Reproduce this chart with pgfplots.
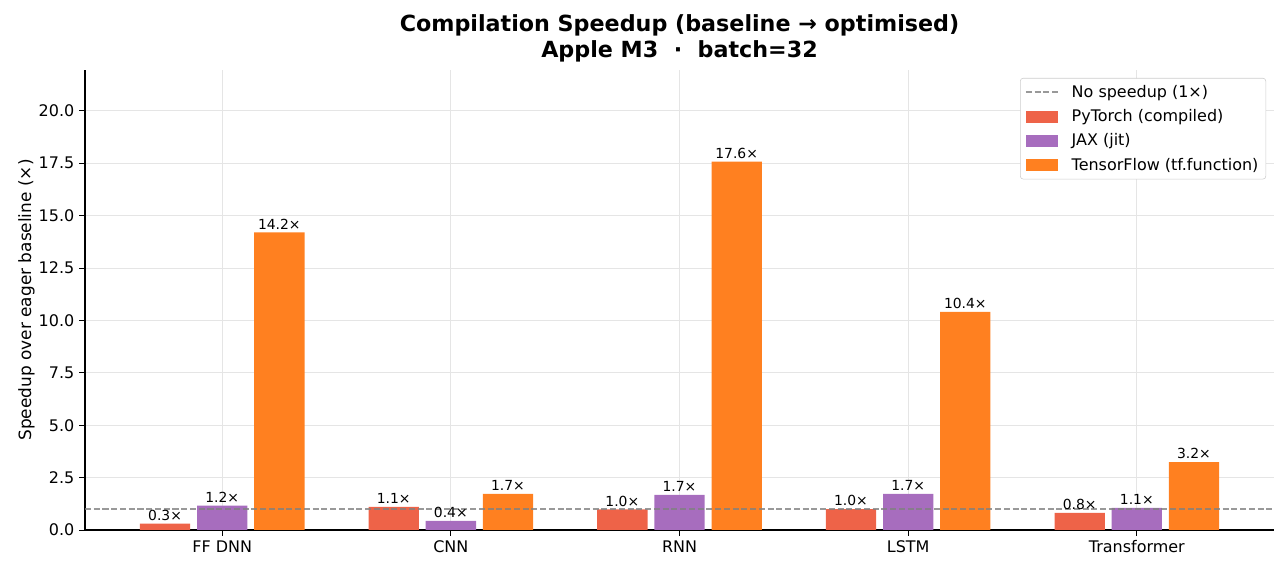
\documentclass[border=0pt]{standalone}
\usepackage{fontspec}
\setmainfont{DejaVu Sans}
\usepackage{pgfplots}
\usepackage{pgfplotstable}
\pgfplotsset{compat=1.18}

\definecolor{ptcol}{RGB}{238,99,72}
\definecolor{jaxcol}{RGB}{167,109,190}
\definecolor{tfcol}{RGB}{255,128,32}
\definecolor{gridcol}{RGB}{229,229,229}
\definecolor{refcol}{RGB}{128,128,128}

\pgfplotsset{
  barleg/.style={area legend, legend image code/.code={\fill[##1, sharp corners] (0pt,-4.3pt) rectangle (23pt,4.3pt);}},
  lineleg/.style={legend image code/.code={\draw[##1, sharp corners] (0pt,0pt) -- (23pt,0pt);}},
  barlabel/.style={nodes near coords={\pgfmathprintnumber[fixed,fixed zerofill,precision=1]{\pgfplotspointmeta}×}},
}

\pgfplotstableread{
x  pt    jax   tf
0  0.30  1.16  14.20
1  1.10  0.43  1.72
2  0.98  1.68  17.58
3  1.00  1.72  10.41
4  0.82  1.06  3.24
}\speedup

\begin{document}
\begin{tikzpicture}
\useasboundingbox (0,0) rectangle (926.64pt,411.84pt);
\begin{axis}[
  at={(61.2pt,30.24pt)}, anchor=south west,
  width=856.1pt, height=331.2pt, scale only axis,
  xmin=-0.6, xmax=4.6, ymin=0, ymax=21.95,
  axis x line*=bottom, axis y line*=left,
  axis line style={line width=0.9pt},
  xtick={0,1,2,3,4},
  xticklabels={FF DNN,CNN,RNN,LSTM,Transformer},
  ytick={0,2.5,...,20},
  yticklabel style={/pgf/number format/.cd,fixed,fixed zerofill,precision=1},
  /pgf/number format/assume math mode=true,
  tick align=outside, tick style={black, line width=0.7pt},
  major tick length=4.2pt,
  ticklabel style={font=\fontsize{11.5}{13.5}\selectfont},
  grid=major, grid style={gridcol, line width=0.6pt},
  ylabel={Speedup over eager baseline (×)},
  ylabel style={font=\fontsize{12.2}{14}\selectfont},
  ylabel shift=-4pt,
  title={Compilation Speedup (baseline → optimised)\\Apple M3 \ · \ batch=32},
  title style={font=\bfseries\fontsize{16}{19}\selectfont, align=center, yshift=-4pt},
  legend cell align=left,
  legend style={at={(0.9933,0.9826)}, anchor=north east,
    draw={rgb,255:red,204;green,204;blue,204}, rounded corners=2pt,
    fill=white, font=\fontsize{11.5}{13.5}\selectfont, row sep=3.2pt,
    inner xsep=3.3pt, inner ysep=3pt,
    /tikz/every odd column/.append style={column sep=7.5pt}},
  nodes near coords style={font=\fontsize{10}{12}\selectfont, text=black,
    anchor=south, inner sep=1pt, yshift=1pt},
]
\addlegendimage{refcol, opacity=0.8, line width=1.2pt, dash pattern=on 4.4pt off 1.9pt, lineleg}
\addlegendentry{No speedup (1×)}

\addplot[ybar, bar width=0.22, bar shift=0, fill=ptcol, draw=none, barleg, barlabel]
  table[x expr=\thisrow{x}-0.25, y=pt]{\speedup};
\addlegendentry{PyTorch (compiled)}

\addplot[ybar, bar width=0.22, bar shift=0, fill=jaxcol, draw=none, barleg, barlabel]
  table[x=x, y=jax]{\speedup};
\addlegendentry{JAX (jit)}

\addplot[ybar, bar width=0.22, bar shift=0, fill=tfcol, draw=none, barleg, barlabel]
  table[x expr=\thisrow{x}+0.25, y=tf]{\speedup};
\addlegendentry{TensorFlow (tf.function)}

\addplot[refcol, opacity=0.8, line width=1.2pt, dash pattern=on 4.4pt off 1.9pt, forget plot]
  coordinates {(-0.6,1) (4.6,1)};
\end{axis}
\end{tikzpicture}
\end{document}
